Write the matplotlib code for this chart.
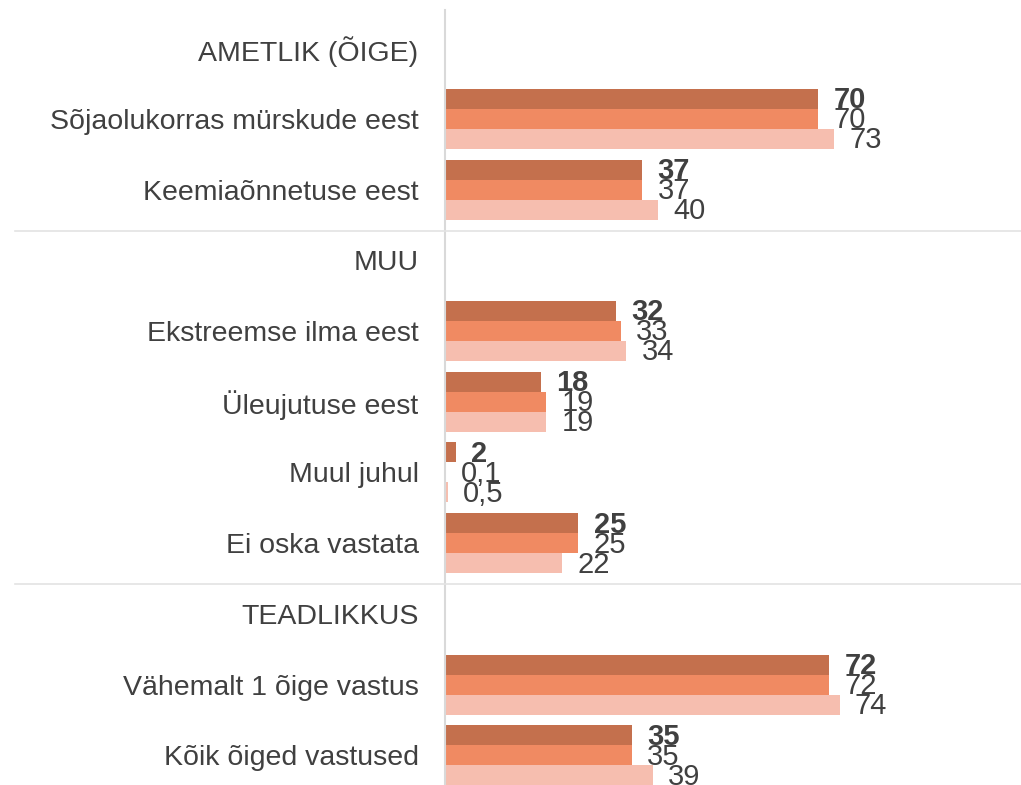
import matplotlib
matplotlib.use("Agg")
import matplotlib.pyplot as plt
from matplotlib.transforms import blended_transform_factory
from matplotlib.lines import Line2D

plt.rcParams['font.family'] = ['Liberation Sans', 'DejaVu Sans']

# ---- data ----
rows = ["AMETLIK (ÕIGE)", "Sõjaolukorras mürskude eest", "Keemiaõnnetuse eest",
        "MUU", "Ekstreemse ilma eest", "Üleujutuse eest", "Muul juhul", "Ei oska vastata",
        "TEADLIKKUS", "Vähemalt 1 õige vastus", "Kõik õiged vastused"]
headers = ["AMETLIK (ÕIGE)", "MUU", "TEADLIKKUS"]
series1 = [None, 70, 37, None, 32, 18, 2, 25, None, 72, 35]
series2 = [None, 70, 37, None, 33, 19, 0.1, 25, None, 72, 35]
series3 = [None, 73, 40, None, 34, 19, 0.5, 22, None, 74, 39]
separators_after = ["Keemiaõnnetuse eest", "Ei oska vastata"]

colors = ["#C4704D", "#F08A62", "#F6BEAF"]
text_color = "#404040"

fig = plt.figure(figsize=(10.21, 7.85), dpi=100)
W, H = 1021, 785
ax = fig.add_axes([445 / W, 0, 1 - 445 / W, (785 - 10) / H])

bh = 0.283
offsets = [-bh, 0, bh]

def fmt(v):
    if v == int(v):
        return str(int(v))
    return ("%g" % v).replace(".", ",")

for k, (vals, col) in enumerate(zip([series1, series2, series3], colors)):
    for i, v in enumerate(vals):
        if v is None:
            continue
        y = i + offsets[k]
        ax.barh(y, v, height=bh, color=col, edgecolor='none')
        ax.annotate(fmt(v), (v, y), xytext=(11, -1), textcoords='offset points',
                    ha='left', va='center', fontsize=21, color=text_color,
                    fontweight='bold' if k == 0 else 'normal', annotation_clip=False)

ax.set_xlim(0, 108)
ax.set_ylim(10.42, -0.54)
ax.set_yticks(range(len(rows)))
ax.set_yticklabels(rows, fontsize=20.5, color=text_color)
ax.tick_params(axis='y', length=0, pad=19)
ax.set_xticks([])
for s in ['top', 'right', 'bottom']:
    ax.spines[s].set_visible(False)
ax.spines['left'].set_color('#D9D9D9')
ax.spines['left'].set_linewidth(1.5)

tr = blended_transform_factory(fig.transFigure, ax.transData)
for name in separators_after:
    i = rows.index(name)
    fig.add_artist(Line2D([15 / W, 1], [i + 0.58, i + 0.58], transform=tr,
                          color='#E3E3E3', linewidth=1.2))

fig.savefig("out.png", dpi=100)
